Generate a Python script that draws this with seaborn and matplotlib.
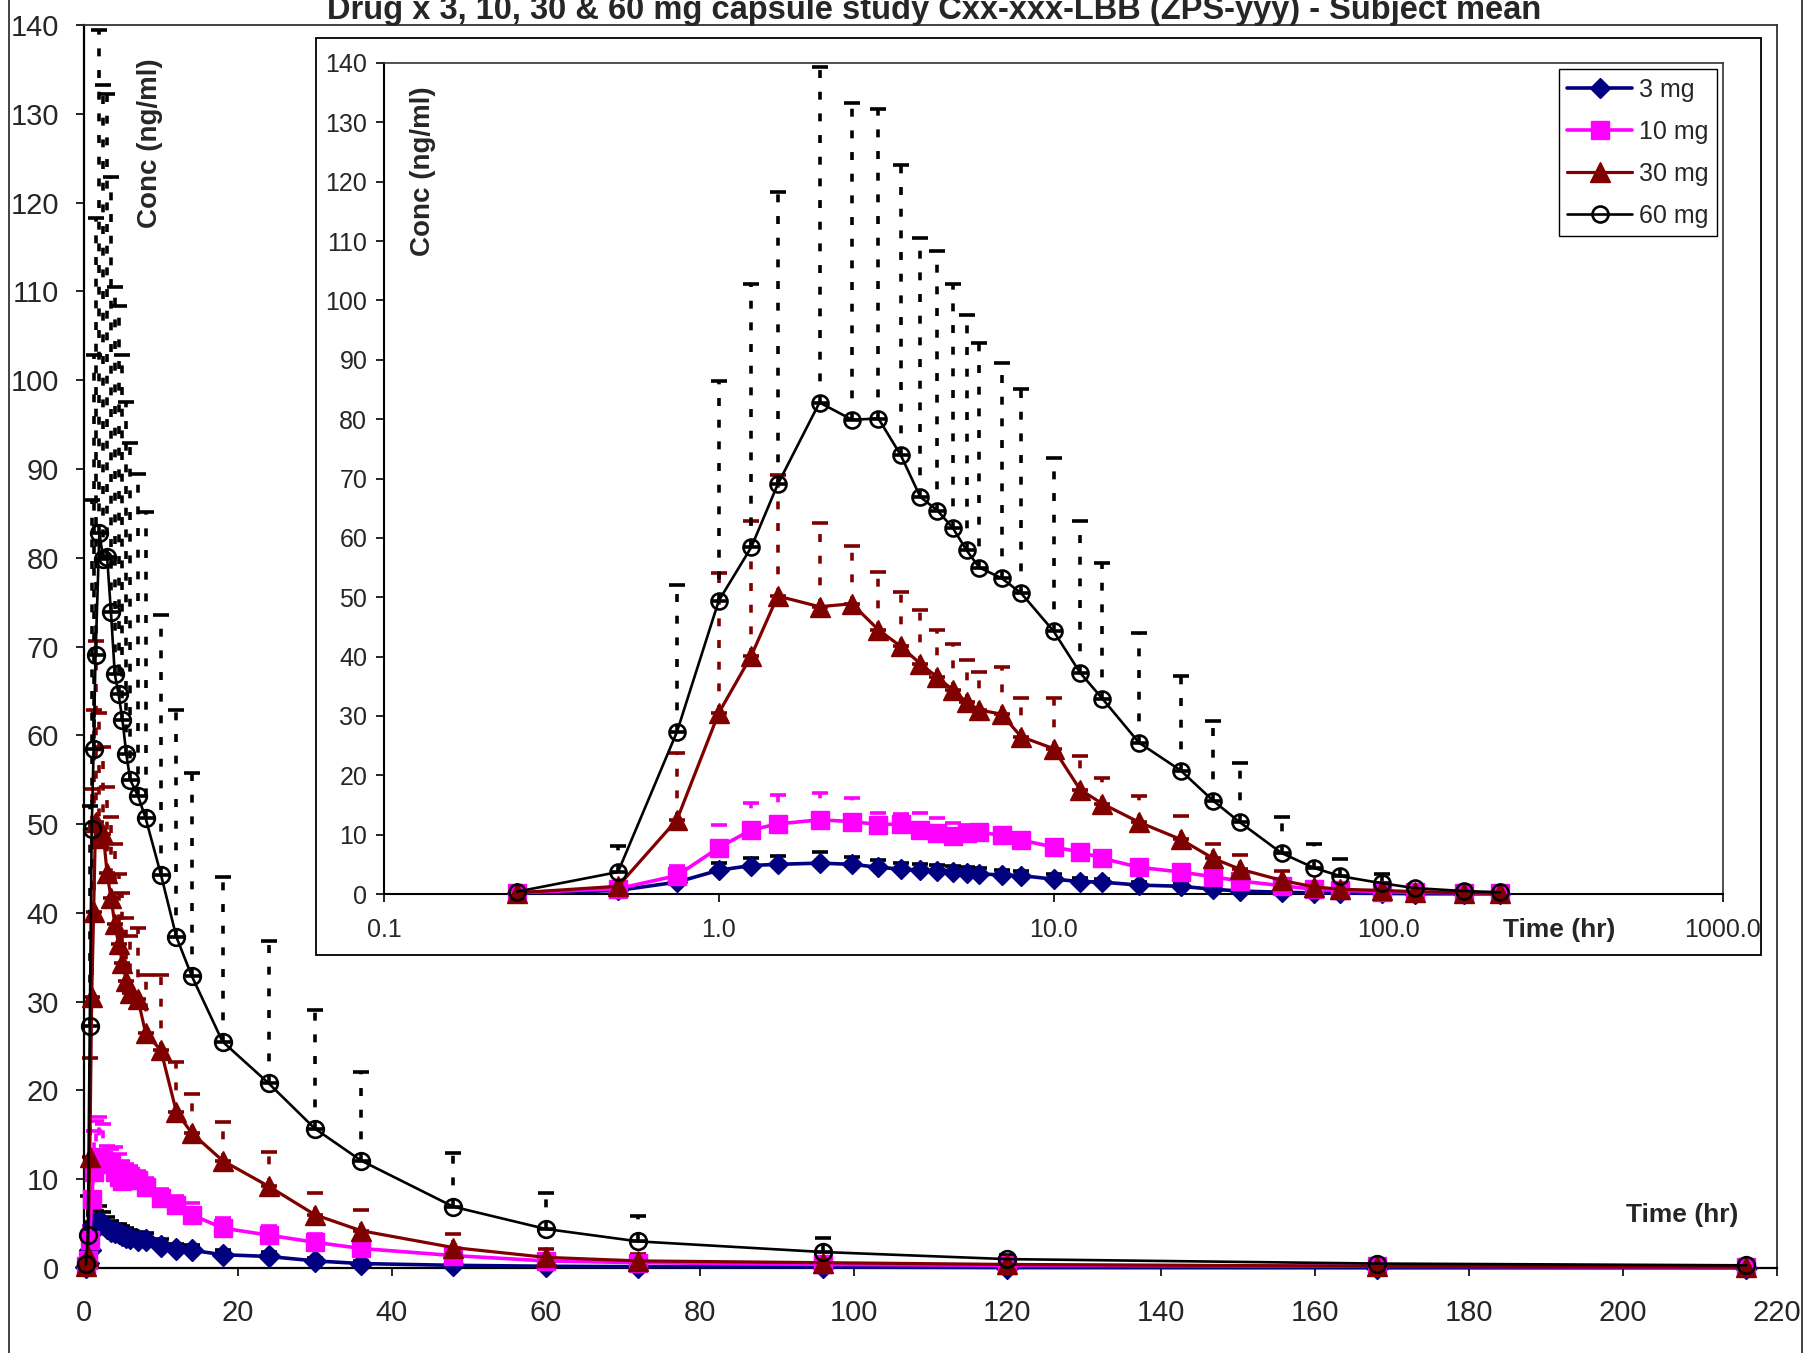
import numpy as np
import pandas as pd
import matplotlib
matplotlib.use("Agg")
import matplotlib.pyplot as plt
import seaborn as sns
from matplotlib.patches import Rectangle
from matplotlib.ticker import FixedLocator, NullLocator, FuncFormatter

# ---------------- data ----------------
times = [0.25, 0.5, 0.75, 1, 1.25, 1.5, 2, 2.5, 3, 3.5, 4, 4.5, 5, 5.5, 6, 7, 8,
         10, 12, 14, 18, 24, 30, 36, 48, 60, 72, 96, 120, 168, 216]

mean_3mg = [0.1, 0.6, 2.0, 4.0, 4.8, 5.0, 5.2, 5.0, 4.5, 4.2, 4.0, 3.9, 3.7, 3.5, 3.4,
            3.2, 3.1, 2.5, 2.1, 2.0, 1.5, 1.3, 0.8, 0.5, 0.3, 0.2, 0.15, 0.1, 0.05, 0.03, 0.02]
upper_3mg = [0.2, 0.9, 3.0, 5.2, 6.0, 6.4, 7.0, 6.3, 5.7, 5.3, 5.0, 4.9, 4.7, 4.5, 4.3,
             4.1, 3.9, 3.3, 2.7, 2.6, 2.0, 1.8, 1.1, 0.8, 0.5, 0.3, 0.25, 0.15, 0.08, 0.05, 0.03]

mean_10mg = [0.2, 0.9, 3.1, 7.8, 10.8, 11.8, 12.5, 12.2, 11.7, 11.8, 10.8, 10.2, 9.8, 10.3,
             10.4, 9.9, 9.1, 7.9, 7.1, 6.0, 4.5, 3.7, 2.9, 2.2, 1.4, 0.8, 0.6, 0.4, 0.3, 0.2, 0.1]
upper_10mg = [0.4, 1.5, 4.7, 11.7, 15.4, 16.6, 17.0, 16.2, 13.7, 13.4, 13.6, 12.8, 12.0, 11.7,
              11.5, 10.9, 10.1, 8.9, 8.1, 7.3, 5.6, 4.7, 3.8, 3.0, 1.8, 1.1, 0.9, 0.6, 0.4, 0.3, 0.2]

mean_30mg = [0.2, 1.3, 12.5, 30.5, 40.1, 50.2, 48.4, 48.9, 44.5, 41.7, 38.8, 36.5, 34.4, 32.3,
             31.0, 30.3, 26.5, 24.5, 17.6, 15.2, 12.1, 9.2, 6.0, 4.2, 2.3, 1.2, 0.8, 0.6, 0.4, 0.2, 0.1]
upper_30mg = [0.4, 1.8, 23.7, 54.0, 62.8, 70.6, 62.5, 58.7, 54.2, 50.8, 47.8, 44.4, 42.2, 39.4,
              37.4, 38.3, 33.0, 33.0, 23.2, 19.6, 16.5, 13.1, 8.5, 6.5, 3.8, 2.1, 1.6, 1.0, 0.6, 0.4, 0.2]

mean_60mg = [0.4, 3.7, 27.3, 49.4, 58.4, 69.0, 82.8, 79.9, 80.1, 73.9, 66.9, 64.6, 61.7, 57.9,
             55.0, 53.2, 50.7, 44.3, 37.3, 32.9, 25.5, 20.8, 15.7, 12.1, 6.9, 4.4, 3.0, 1.8, 1.0, 0.5, 0.3]
upper_60mg = [0.6, 8.1, 52.0, 86.5, 102.8, 118.3, 139.4, 133.2, 132.2, 122.9, 110.5, 108.4, 102.8,
              97.5, 92.9, 89.4, 85.1, 73.5, 62.8, 55.7, 44.0, 36.8, 29.1, 22.1, 13.0, 8.4, 5.9, 3.4, 1.5, 0.8, 0.5]

labels = ["3 mg", "10 mg", "30 mg", "60 mg"]
means = [mean_3mg, mean_10mg, mean_30mg, mean_60mg]
uppers = [upper_3mg, upper_10mg, upper_30mg, upper_60mg]

title = "Drug x 3, 10, 30 & 60 mg capsule study Cxx-xxx-LBB (ZPS-yyy) - Subject mean"
y_label = "Conc (ng/ml)"
x_label = "Time (hr)"
main_xticks = [0, 20, 40, 60, 80, 100, 120, 140, 160, 180, 200, 220]
yticks = [0, 10, 20, 30, 40, 50, 60, 70, 80, 90, 100, 110, 120, 130, 140]
inset_xticks = [0.1, 1.0, 10.0, 100.0, 1000.0]

# ---------------- styles ----------------
colors = ["#000080", "#FF00FF", "#800000", "#000000"]
err_colors = ["#000000", "#FF00FF", "#800000", "#000000"]
markers = ["D", "s", "^", "o"]
face = ["#000080", "#FF00FF", "#800000", "none"]
ms_main = [11.0, 13.0, 15.0, 12.0]
ms_inset = [10.5, 12.5, 14.0, 11.5]
lws = [2.6, 2.6, 2.3, 1.9]

sns.set_theme(style="white")
plt.rcParams["font.family"] = ["Liberation Sans", "DejaVu Sans"]

W, H = 1804, 1353
fig = plt.figure(figsize=(W / 100, H / 100), dpi=100)
fig.patch.set_facecolor("white")

# main axes (linear)
ax = fig.add_axes([84 / W, 1 - 1268 / H, (1777 - 84) / W, (1268 - 25) / H])
# inset axes (log)
ax2 = fig.add_axes([384 / W, 1 - 894 / H, (1723 - 384) / W, (894 - 63) / H], zorder=3)


def draw(a, sizes, capsize):
    for i in range(4):
        m = np.array(means[i])
        u = np.array(uppers[i])
        eb = a.errorbar(times, m, yerr=[np.zeros_like(m), u - m], fmt="none",
                        ecolor=err_colors[i], elinewidth=2.6, capsize=capsize,
                        capthick=2.6, zorder=2, clip_on=False)
        for lc in eb[2]:
            lc.set_linestyle((0, (2.2, 3.8)))
        for cl in eb[1]:
            cl.set_clip_on(False)
    for i in range(4):
        sns.lineplot(x=times, y=means[i], ax=a, color=colors[i], marker=markers[i],
                     markersize=sizes[i], markerfacecolor=face[i],
                     markeredgecolor=colors[i], markeredgewidth=1.9 if i == 3 else 1.0,
                     linewidth=lws[i], label=labels[i], zorder=3, clip_on=False,
                     legend=False)


draw(ax, ms_main, 6)
draw(ax2, ms_inset, 6)

# ---- main axes formatting
ax.set_xlim(0, 220)
ax.set_ylim(0, 140)
ax.xaxis.set_major_locator(FixedLocator(main_xticks))
ax.yaxis.set_major_locator(FixedLocator(yticks))
ax.set_xlabel("")
ax.set_ylabel("")
ax.tick_params(axis="both", which="major", direction="out", length=6, width=1.2,
               color="black", bottom=True, left=True)
ax.tick_params(axis="y", labelsize=21, pad=12)
ax.tick_params(axis="x", labelsize=21, pad=16)
for s in ["left", "bottom"]:
    ax.spines[s].set_color("black")
    ax.spines[s].set_linewidth(1.6)
for s in ["top", "right"]:
    ax.spines[s].set_color("#333333")
    ax.spines[s].set_linewidth(1.3)
ax.set_facecolor("white")
ax.text(0.039, 0.905, y_label, rotation=90, transform=ax.transAxes, ha="center",
        va="center", fontsize=20, fontweight="bold")
ax.text(0.944, 0.0426, x_label, transform=ax.transAxes, ha="center", va="center",
        fontsize=19, fontweight="bold")

# ---- inset box (chart area)
fig.patches.append(Rectangle((316 / W, 1 - 955 / H), (1761 - 316) / W, (955 - 38) / H,
                             transform=fig.transFigure, facecolor="white",
                             edgecolor="black", linewidth=1.3, zorder=2))

# ---- inset axes formatting
ax2.set_xscale("log")
ax2.set_xlim(0.1, 1000)
ax2.set_ylim(0, 140)
ax2.xaxis.set_major_locator(FixedLocator(inset_xticks))
ax2.xaxis.set_minor_locator(NullLocator())
ax2.xaxis.set_major_formatter(FuncFormatter(lambda v, p: f"{v:.1f}"))
ax2.yaxis.set_major_locator(FixedLocator(yticks))
ax2.set_xlabel("")
ax2.set_ylabel("")
ax2.tick_params(axis="both", which="major", direction="out", length=6, width=1.2,
                color="black", bottom=True, left=True)
ax2.tick_params(axis="y", labelsize=18, pad=6)
ax2.tick_params(axis="x", labelsize=18, pad=11)
for s in ["left", "bottom"]:
    ax2.spines[s].set_color("black")
    ax2.spines[s].set_linewidth(1.5)
for s in ["top", "right"]:
    ax2.spines[s].set_color("#333333")
    ax2.spines[s].set_linewidth(1.2)
ax2.set_facecolor("white")
ax2.text(0.029, 0.870, y_label, rotation=90, transform=ax2.transAxes, ha="center",
         va="center", fontsize=20, fontweight="bold")
ax2.text(0.8775, -0.043, x_label, transform=ax2.transAxes, ha="center", va="center",
         fontsize=19, fontweight="bold")

leg = ax2.legend(loc="upper right", bbox_to_anchor=(0.9955, 0.993), fontsize=18,
                 frameon=True, fancybox=False, edgecolor="black", framealpha=1,
                 handlelength=2.6, labelspacing=0.72, handletextpad=0.25,
                 borderpad=0.35, borderaxespad=0)
leg.get_frame().set_linewidth(1.0)

# ---- title (partly cut off at the top, as in the reference)
fig.text(934 / W, 1 - 19 / H, title, ha="center", va="baseline", fontsize=23.5,
         fontweight="bold", family=["Liberation Sans Narrow", "Liberation Sans", "DejaVu Sans"])

# ---- outer chart border
fig.patches.append(Rectangle((9 / W, -0.05), (1802 - 9) / W, 1.1, transform=fig.transFigure,
                             fill=False, edgecolor="#333333", linewidth=1.3, zorder=10))

fig.savefig("out.png", dpi=100)
